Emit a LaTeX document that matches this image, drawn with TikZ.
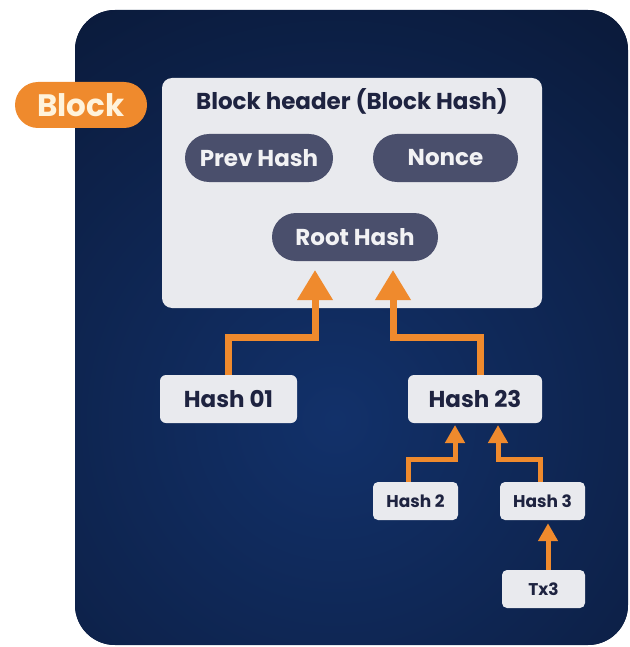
\documentclass[tikz,border=0pt]{standalone}
\usepackage{fontspec}
\setmainfont{Poppins}
\usetikzlibrary{arrows.meta,calc}
\definecolor{navy}{HTML}{0A1836}
\definecolor{navyc}{HTML}{12316A}
\definecolor{lightbox}{HTML}{E9EAEE}
\definecolor{slate}{HTML}{4A4F6C}
\definecolor{ink}{HTML}{1E2340}
\definecolor{orng}{HTML}{EF8A2D}
\definecolor{cream}{HTML}{FFF3DC}
\definecolor{pilltext}{HTML}{F2F2F4}
\begin{document}
\begin{tikzpicture}[x=1pt,y=-1pt,
  bigfont/.style={font=\bfseries\fontsize{23}{27}\selectfont},
  smallfont/.style={font=\bfseries\fontsize{17}{20}\selectfont},
  lbox/.style={fill=lightbox, rounded corners=6pt, text=ink, bigfont, inner sep=0pt, minimum height=48pt},
  sbox/.style={fill=lightbox, rounded corners=5pt, text=ink, smallfont, inner sep=0pt, minimum height=38pt},
  pill/.style={fill=slate, rounded corners=24pt, text=pilltext, bigfont, inner sep=0pt, minimum height=48pt},
  bigarr/.style={draw=orng, line width=7pt, -{Triangle[width=34pt,length=30pt]}},
  smallarr/.style={draw=orng, line width=5pt, -{Triangle[width=19pt,length=18pt]}}]
\useasboundingbox (0,0) rectangle (629,647);
% background panel
\begin{scope}
  \clip[rounded corners=40pt] (75,10) rectangle (628,645);
  \fill[navy] (75,10) rectangle (628,645);
  \shade[inner color=navyc, outer color=navy] (335,420) circle (540);
\end{scope}
% block label
\node[fill=orng, rounded corners=23pt, minimum width=132pt, minimum height=46pt, inner sep=0pt,
      text=cream, font=\bfseries\fontsize{31}{35}\selectfont] (blk) at (81,105) {Block};
% header
\node[fill=lightbox, rounded corners=10pt, minimum width=380pt, minimum height=230pt, inner sep=0pt] (hdr) at (352,193) {};
\node[bigfont, text=ink, inner sep=0pt] (title) at (352,101) {Block header (Block Hash)};
\node[pill, minimum width=148pt] (prev) at (259,158) {Prev Hash};
\node[pill, minimum width=145pt] (nonce) at (445.5,158) {Nonce};
\node[pill, minimum width=166pt] (root) at (355,237) {Root Hash};
% hash boxes
\node[lbox, minimum width=137pt] (h01) at (228.5,399) {Hash 01};
\node[lbox, minimum width=134pt] (h23) at (475,399) {Hash 23};
\node[sbox, minimum width=85pt] (h2) at (415.5,501) {Hash 2};
\node[sbox, minimum width=85pt] (h3) at (542.5,501) {Hash 3};
\node[sbox, minimum width=83pt] (tx3) at (543.5,589) {Tx3};
% arrow targets
\coordinate (t1) at (315,270);
\coordinate (t2) at (393,270);
\coordinate (t3) at (455,425);
\coordinate (t4) at (498,425);
% connectors
\draw[bigarr] (h01.north) -- ++(0,-37) -| (t1);
\draw[bigarr] ([xshift=5pt]h23.north) -- ++(0,-37) -| (t2);
\draw[smallarr] ([xshift=-7.5pt]h2.north) -- ++(0,-22) -| (t3);
\draw[smallarr] ([xshift=-2.5pt]h3.north) -- ++(0,-22) -| (t4);
\draw[smallarr] ([xshift=4.5pt]tx3.north) -- ([xshift=5.5pt,yshift=-3pt]h3.south);
\end{tikzpicture}
\end{document}
